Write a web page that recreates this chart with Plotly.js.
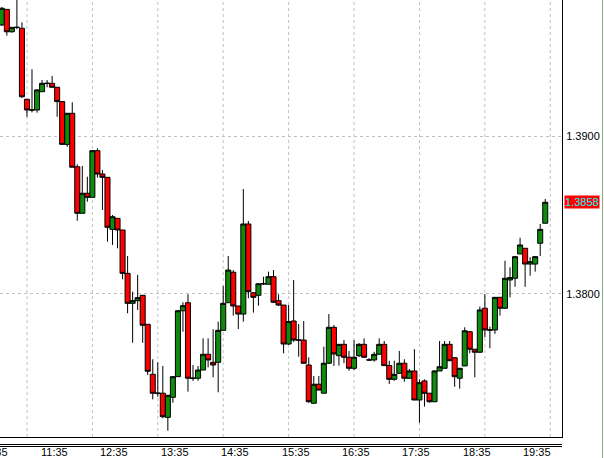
<!DOCTYPE html>
<html>
<head>
<meta charset="utf-8">
<script src="https://cdn.plot.ly/plotly-3.0.1.min.js"></script>
<style>
html,body{margin:0;padding:0;background:#fff;}
#chart{width:604px;height:458px;}
</style>
</head>
<body>
<div id="chart"></div>
<script>
// 5-minute bars, first bar at 10:55
const firstBarTime = '10:55';
const barMinutes = 5;

const openP = [
1.39704,1.39803,1.39661,1.39689,1.39683,1.39233,1.39165,1.39165,1.39281,1.39334,
1.39334,1.39309,1.39218,1.38947,1.39144,1.38805,1.38510,1.38637,1.38611,1.38907,
1.38759,1.38738,1.38408,1.38478,1.38404,1.38129,1.37939,1.37956,1.37990,1.37806,
1.37489,1.37369,1.37369,1.37216,1.37343,1.37474,1.37892,1.37943,1.37464,1.37464,
1.37516,1.37616,1.37565,1.37565,1.37768,1.37943,1.38136,1.37922,1.37871,1.38442,
1.38006,1.37990,1.38063,1.38060,1.38108,1.37956,1.37928,1.37681,1.37827,1.37706,
1.37706,1.37548,1.37305,1.37426,1.37369,1.37559,1.37787,1.37607,1.37679,1.37597,
1.37527,1.37607,1.37679,1.37580,1.37580,1.37616,1.37679,1.37544,1.37457,1.37495,
1.37559,1.37464,1.37510,1.37326,1.37447,1.37369,1.37315,1.37510,1.37527,1.37679,
1.37594,1.37464,1.37542,1.37759,1.37648,1.37629,1.37908,1.37770,1.37770,1.37977,
1.37908,1.38087,1.38098,1.38252,1.38288,1.38188,1.38188,1.38320,1.38447];

const highP = [
1.39818,1.39805,1.39691,1.39913,1.39721,1.39233,1.39423,1.39298,1.39355,1.39355,
1.39381,1.39311,1.39218,1.39146,1.39214,1.38821,1.38810,1.38742,1.38911,1.38922,
1.38784,1.38740,1.38499,1.38480,1.38404,1.38239,1.38013,1.38119,1.37992,1.37808,
1.37584,1.37565,1.37542,1.37358,1.37478,1.37897,1.37946,1.37996,1.37548,1.37542,
1.37717,1.37717,1.37774,1.37823,1.38049,1.38239,1.38150,1.37922,1.38664,1.38461,
1.38011,1.38068,1.38108,1.38140,1.38150,1.37996,1.37928,1.37928,1.38087,1.37808,
1.37827,1.37597,1.37478,1.37478,1.37664,1.37871,1.37802,1.37681,1.37706,1.37637,
1.37706,1.37687,1.37717,1.37592,1.37632,1.37717,1.37700,1.37575,1.37575,1.37637,
1.37584,1.37523,1.37648,1.37457,1.37457,1.37371,1.37516,1.37700,1.37700,1.37700,
1.37599,1.37529,1.37787,1.37764,1.37650,1.37918,1.37998,1.37791,1.37979,1.37979,
1.38209,1.38168,1.38239,1.38355,1.38290,1.38231,1.38239,1.38442,1.38601];

const lowP = [
1.39698,1.39636,1.39655,1.39677,1.39241,1.39122,1.39150,1.39148,1.39279,1.39309,
1.39309,1.39122,1.38943,1.38932,1.38802,1.38463,1.38510,1.38583,1.38611,1.38736,
1.38531,1.38330,1.38309,1.38288,1.38091,1.37876,1.37689,1.37897,1.37689,1.37485,
1.37330,1.37347,1.37210,1.37131,1.37309,1.37472,1.37759,1.37379,1.37447,1.37448,
1.37516,1.37533,1.37470,1.37375,1.37768,1.37943,1.37861,1.37776,1.37823,1.37971,
1.37880,1.37924,1.38055,1.38060,1.37941,1.37922,1.37622,1.37675,1.37694,1.37601,
1.37559,1.37309,1.37305,1.37389,1.37369,1.37554,1.37542,1.37544,1.37559,1.37512,
1.37516,1.37599,1.37592,1.37573,1.37569,1.37616,1.37542,1.37428,1.37448,1.37495,
1.37442,1.37459,1.37326,1.37182,1.37284,1.37309,1.37313,1.37510,1.37527,1.37573,
1.37410,1.37398,1.37542,1.37622,1.37470,1.37624,1.37724,1.37654,1.37745,1.37861,
1.37903,1.37977,1.38044,1.38252,1.38044,1.38114,1.38140,1.38239,1.38447];

const closeP = [
1.39810,1.39661,1.39689,1.39689,1.39249,1.39165,1.39165,1.39292,1.39334,1.39334,
1.39309,1.39218,1.38947,1.39144,1.38802,1.38510,1.38637,1.38611,1.38907,1.38759,
1.38738,1.38421,1.38488,1.38404,1.38129,1.37939,1.37956,1.37975,1.37800,1.37508,
1.37369,1.37369,1.37220,1.37356,1.37474,1.37892,1.37924,1.37464,1.37464,1.37516,
1.37616,1.37580,1.37548,1.37768,1.37939,1.38150,1.37922,1.37871,1.38442,1.38013,
1.37977,1.38063,1.38063,1.38108,1.37946,1.37928,1.37681,1.37823,1.37706,1.37706,
1.37559,1.37315,1.37426,1.37389,1.37559,1.37787,1.37618,1.37679,1.37597,1.37527,
1.37597,1.37679,1.37597,1.37580,1.37616,1.37679,1.37544,1.37457,1.37489,1.37559,
1.37464,1.37510,1.37326,1.37436,1.37369,1.37315,1.37510,1.37537,1.37679,1.37575,
1.37474,1.37527,1.37765,1.37648,1.37629,1.37897,1.37770,1.37770,1.37977,1.37908,
1.38098,1.38102,1.38235,1.38309,1.38188,1.38203,1.38235,1.38408,1.38580];

const timeTickLabels = ['10:35','11:35','12:35','13:35','14:35','15:35','16:35','17:35','18:35','19:35'];
const priceTickLabels = ['1.3800','1.3900'];

// ---- derived ----
const toMin = t => { const p = t.split(':'); return (+p[0]) * 60 + (+p[1]); };
const xIdx = openP.map((_, i) => i);
const timeTickVals = timeTickLabels.map(t => (toMin(t) - toMin(firstBarTime)) / barMinutes);
const priceTickVals = priceTickLabels.map(Number);
const lastClose = closeP[closeP.length - 1];

const W = 604, H = 458;
const plotW = 562, plotH = 437;
const fontFam = '"Liberation Sans", Arial, sans-serif';
const xRange = [-0.358, 111.33];
const yRange = [1.370914, 1.398624];

// vertical grid every 13 bars starting at bar 5
const gridStep = 13, gridFirst = 5;
const vGrid = [];
for (let g = gridFirst; g < xRange[1]; g += gridStep) vGrid.push(g);

const trace = {
  type: 'candlestick',
  x: xIdx, open: openP, high: highP, low: lowP, close: closeP,
  increasing: {line: {color: '#000000', width: 1}, fillcolor: '#0e8a0e'},
  decreasing: {line: {color: '#000000', width: 1}, fillcolor: '#ff0000'},
  whiskerwidth: 0,
  hoverinfo: 'skip',
  showlegend: false
};

const pyFrac = px => (plotH - px) / plotH;
const xFrac = v => (v - xRange[0]) / (xRange[1] - xRange[0]);

const shapes = vGrid.map(g => ({
  type: 'line', xref: 'x', yref: 'paper', x0: g, x1: g, y0: 0, y1: 1, layer: 'below',
  line: {color: '#c0c0c0', width: 1, dash: '3px,3px'}
}));
shapes.push(
  {type: 'line', xref: 'paper', yref: 'paper', x0: 0, x1: 1,
   y0: pyFrac(444.5), y1: pyFrac(444.5), line: {color: '#000', width: 1}},
  {type: 'line', xref: 'paper', yref: 'paper', x0: 0, x1: 1,
   y0: pyFrac(446.5), y1: pyFrac(446.5), line: {color: '#000', width: 1}},
  {type: 'line', xref: 'paper', yref: 'paper', x0: 602.5 / plotW, x1: 602.5 / plotW,
   y0: pyFrac(H), y1: 1, line: {color: '#8aa88a', width: 1}}
);

// time labels (MT-style: text starts at the bar, first one partly cut at the left edge)
const annotations = timeTickLabels.map((t, k) => ({
  xref: 'paper', yref: 'paper', x: xFrac(timeTickVals[k]), y: pyFrac(445),
  xanchor: 'center', yanchor: 'top', xshift: 12,
  text: t, showarrow: false, borderpad: 0,
  font: {family: fontFam, size: 11, color: '#000'}
}));
annotations.push({
  xref: 'paper', yref: 'y', x: 1, y: lastClose,
  xanchor: 'left', yanchor: 'middle', xshift: 2,
  text: lastClose.toFixed(4), showarrow: false,
  bgcolor: '#ff0000', borderpad: 0,
  font: {family: fontFam, size: 11, color: '#00ffff'}
});

const layout = {
  width: W, height: H,
  margin: {l: 0, r: W - plotW, t: 0, b: H - plotH, pad: 0},
  paper_bgcolor: '#ffffff', plot_bgcolor: '#ffffff',
  boxgap: 0, boxgroupgap: 0,
  showlegend: false,
  font: {family: fontFam, size: 11, color: '#000'},
  xaxis: {
    range: xRange, autorange: false, fixedrange: true,
    rangeslider: {visible: false},
    showticklabels: false, ticks: '',
    showgrid: false, zeroline: false,
    showline: true, linecolor: '#000000', linewidth: 1
  },
  yaxis: {
    side: 'right', range: yRange, autorange: false, fixedrange: true,
    tickmode: 'array', tickvals: priceTickVals, ticktext: priceTickLabels,
    ticks: '', ticklabelstandoff: 1,
    showgrid: true, gridcolor: '#c0c0c0', gridwidth: 1, griddash: '3px,3px',
    zeroline: false,
    showline: true, linecolor: '#000000', linewidth: 1,
    tickfont: {family: fontFam, size: 11, color: '#000'}
  },
  shapes: shapes,
  annotations: annotations
};

Plotly.newPlot('chart', [trace], layout, {staticPlot: true, displayModeBar: false});
</script>
</body>
</html>
